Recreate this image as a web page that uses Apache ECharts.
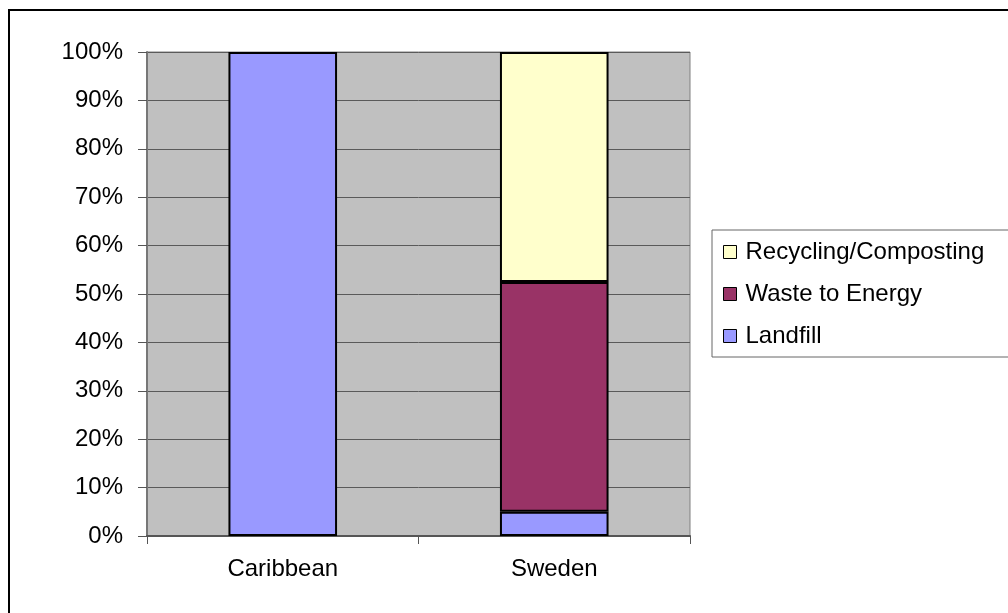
<!DOCTYPE html>
<html>
<head>
<meta charset="utf-8">
<title>Waste treatment by region</title>
<script src="https://cdn.jsdelivr.net/npm/echarts@6/dist/echarts.min.js"></script>
<style>
  html, body { margin: 0; padding: 0; background: #ffffff; }
  #chart { width: 1008px; height: 613px; }
</style>
</head>
<body>
<div id="chart"></div>
<script>
// Share of municipal waste by treatment route (percent)
const regions = ['Caribbean', 'Sweden'];
const landfill = [100, 5];
const wasteToEnergy = [null, 47.5];
const recycling = [null, 47.5];
const yTicks = { min: 0, max: 100, step: 10 };

const FONT = '"Liberation Sans", Arial, sans-serif';
const OUTLINE = { borderColor: '#000000', borderWidth: 2 };

const chart = echarts.init(document.getElementById('chart'));

chart.setOption({
  backgroundColor: '#ffffff',
  animation: false,
  textStyle: { fontFamily: FONT, color: '#000000' },
  graphic: [{
    type: 'rect',
    z: -10,
    shape: { x: 9, y: 10, width: 1100, height: 700 },
    style: { fill: 'none', stroke: '#000000', lineWidth: 2 }
  }],
  grid: {
    left: 147, top: 52, right: 318, bottom: 77,
    show: true,
    backgroundColor: '#c0c0c0',
    borderColor: '#808080',
    borderWidth: 1
  },
  legend: {
    orient: 'vertical',
    left: 712, top: 230,
    padding: [10, 60, 9, 11],
    backgroundColor: '#ffffff',
    borderColor: '#666666',
    borderWidth: 1,
    borderRadius: 0,
    icon: 'rect',
    itemWidth: 13, itemHeight: 13,
    itemGap: 18,
    itemStyle: { borderColor: '#000000', borderWidth: 1 },
    textStyle: { fontFamily: FONT, fontSize: 24, color: '#000000', padding: [0, 0, 0, 4] },
    data: ['Recycling/Composting', 'Waste to Energy', 'Landfill']
  },
  xAxis: {
    type: 'category',
    data: regions,
    axisLine: { lineStyle: { color: '#555555', width: 2 } },
    axisTick: { show: true, length: 8, lineStyle: { color: '#555555', width: 1 } },
    axisLabel: { fontFamily: FONT, fontSize: 24, color: '#000000', margin: 21 },
    splitLine: { show: false }
  },
  yAxis: {
    type: 'value',
    min: yTicks.min, max: yTicks.max, interval: yTicks.step,
    axisLine: { show: true, lineStyle: { color: '#777777', width: 2 } },
    axisTick: { show: true, length: 9, lineStyle: { color: '#555555', width: 1 } },
    axisLabel: { fontFamily: FONT, fontSize: 24, color: '#000000', margin: 24, formatter: '{value}%' },
    splitLine: { show: true, lineStyle: { color: '#5a5a5a', width: 1 } }
  },
  series: [
    { name: 'Landfill', type: 'bar', stack: 'total', data: landfill,
      barCategoryGap: '60%', itemStyle: Object.assign({ color: '#9999ff' }, OUTLINE) },
    { name: 'Waste to Energy', type: 'bar', stack: 'total', data: wasteToEnergy,
      barCategoryGap: '60%', itemStyle: Object.assign({ color: '#993366' }, OUTLINE) },
    { name: 'Recycling/Composting', type: 'bar', stack: 'total', data: recycling,
      barCategoryGap: '60%', itemStyle: Object.assign({ color: '#ffffcc' }, OUTLINE) }
  ]
});
</script>
</body>
</html>
